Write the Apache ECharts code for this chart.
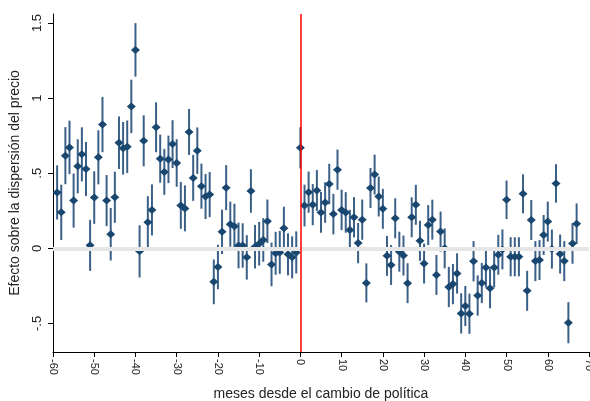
<!DOCTYPE html>
<html>
<head>
<meta charset="utf-8">
<script src="https://cdn.jsdelivr.net/npm/echarts@6/dist/echarts.min.js"></script>
<style>
  html, body { margin: 0; padding: 0; background: #fff; }
  #main { width: 590px; height: 401px; }
</style>
</head>
<body>
<div id="main"></div>
<script>
// meses desde el cambio de política (-59 .. 67)
var months = [];
for (var m = -59; m <= 67; m++) months.push(m);

// coeficientes estimados
var coef = [
  0.372, 0.24, 0.617, 0.672, 0.318, 0.546, 0.626, 0.528, 0.02, 0.338,
  0.606, 0.824, 0.318, 0.094, 0.34, 0.703, 0.666, 0.676, 0.945, 1.321,
  -0.02, 0.716, 0.174, 0.256, 0.806, 0.597, 0.509, 0.592, 0.694, 0.568,
  0.286, 0.266, 0.775, 0.469, 0.65, 0.414, 0.345, 0.358, -0.223, -0.124,
  0.11, 0.404, 0.161, 0.147, 0.019, 0.019, -0.06, 0.382, 0.011, 0.031,
  0.056, 0.18, -0.107, -0.033, -0.027, 0.134, -0.04, -0.06, -0.027,
  // mes 0
  0.669, 0.285, 0.374, 0.291, 0.385, 0.239, 0.305, 0.428, 0.228, 0.524,
  0.256, 0.239, 0.122, 0.207, 0.035, 0.191, -0.23, 0.402, 0.491, 0.345,
  0.263, -0.05, -0.111, 0.2, -0.022, -0.048, -0.232, 0.207, 0.29, 0.05,
  -0.101, 0.155, 0.191, -0.177, 0.112, 0.0, -0.257, -0.238, -0.167, -0.433,
  -0.384, -0.435, -0.086, -0.314, -0.231, -0.128, -0.266, -0.127, -0.043, -0.007,
  0.323, -0.056, -0.056, -0.056, 0.363, -0.283, 0.189, -0.085, -0.078, 0.089,
  0.178, -0.005, 0.432, -0.038, -0.085, -0.495, 0.033, 0.164
];

// semi-amplitud del intervalo de confianza
var ciHalf = [
  0.18, 0.184, 0.19, 0.178, 0.18, 0.18, 0.18, 0.18, 0.17, 0.175,
  0.18, 0.184, 0.17, 0.175, 0.17, 0.175, 0.175, 0.175, 0.178, 0.178,
  0.174, 0.17, 0.173, 0.17, 0.166, 0.16, 0.153, 0.158, 0.159, 0.158,
  0.156, 0.153, 0.153, 0.153, 0.155, 0.15, 0.15, 0.15, 0.149, 0.148,
  0.148, 0.15, 0.15, 0.15, 0.152, 0.148, 0.148, 0.145, 0.145, 0.145,
  0.145, 0.145, 0.145, 0.143, 0.143, 0.143, 0.14, 0.14, 0.14,
  0.137, 0.139, 0.137, 0.137, 0.136, 0.136, 0.135, 0.135, 0.135, 0.134,
  0.135, 0.135, 0.135, 0.134, 0.134, 0.134, 0.13, 0.133, 0.133, 0.133,
  0.133, 0.133, 0.133, 0.133, 0.133, 0.133, 0.133, 0.133, 0.133, 0.133,
  0.133, 0.133, 0.133, 0.133, 0.133, 0.133, 0.134, 0.134, 0.134, 0.134,
  0.134, 0.134, 0.134, 0.134, 0.134, 0.133, 0.133, 0.133, 0.133, 0.133,
  0.128, 0.13, 0.13, 0.13, 0.13, 0.133, 0.133, 0.133, 0.133, 0.133,
  0.133, 0.13, 0.128, 0.13, 0.133, 0.137, 0.135, 0.135
];

var xTicks = [-60, -50, -40, -30, -20, -10, 0, 10, 20, 30, 40, 50, 60, 70];
var yTicks = [-0.5, 0, 0.5, 1, 1.5];
var yTickLabels = ['-.5', '0', '.5', '1', '1.5'];

var points = months.map(function (m, i) { return [m, coef[i]]; });
var bars = months.map(function (m, i) { return [m, coef[i] - ciHalf[i], coef[i] + ciHalf[i]]; });

var font = "'Liberation Sans', Arial, sans-serif";
var myChart = echarts.init(document.getElementById('main'));

var option = {
  animation: false,
  backgroundColor: '#fff',
  grid: { left: 53, right: 1, top: 14, bottom: 49, containLabel: false, outerBoundsMode: 'none' },
  xAxis: {
    type: 'value',
    min: -60, max: 70, interval: 10,
    name: 'meses desde el cambio de política',
    nameLocation: 'middle',
    nameGap: 35,
    nameTextStyle: { fontFamily: font, fontSize: 14, color: '#222' },
    axisLine: { show: true, onZero: false, lineStyle: { color: '#000', width: 1 } },
    axisTick: { show: true, length: 5, lineStyle: { color: '#000' } },
    axisLabel: {
      rotate: -90, fontFamily: font, fontSize: 11, color: '#222', margin: 7,
      showMaxLabel: true,
      customValues: xTicks
    },
    splitLine: { show: false }
  },
  yAxis: {
    type: 'value',
    min: -0.69, max: 1.56,
    name: 'Efecto sobre la dispersión del precio',
    nameLocation: 'middle',
    nameGap: 31,
    nameTextStyle: { fontFamily: font, fontSize: 14, color: '#222' },
    axisLine: { show: true, onZero: false, lineStyle: { color: '#000', width: 1 } },
    axisTick: { show: true, length: 5, lineStyle: { color: '#000' }, customValues: yTicks },
    axisLabel: {
      rotate: 90, fontFamily: font, fontSize: 13, color: '#222', margin: 9,
      customValues: yTicks,
      formatter: function (v) {
        var i = yTicks.indexOf(v);
        return i >= 0 ? yTickLabels[i] : '';
      }
    },
    splitLine: { show: false }
  },
  series: [
    {
      type: 'scatter',
      data: [],
      z: 1,
      markLine: {
        silent: true,
        symbol: 'none',
        animation: false,
        label: { show: false },
        data: [
          { yAxis: 0, lineStyle: { color: '#e6e6e6', width: 4, type: 'solid' } },
          { xAxis: 0, lineStyle: { color: '#ff0000', width: 1.5, type: 'solid' } }
        ]
      }
    },
    {
      type: 'custom',
      z: 2,
      data: bars,
      renderItem: function (params, api) {
        var p1 = api.coord([api.value(0), api.value(1)]);
        var p2 = api.coord([api.value(0), api.value(2)]);
        return {
          type: 'line',
          shape: { x1: p1[0], y1: p1[1], x2: p2[0], y2: p2[1] },
          style: { stroke: '#3b6088', lineWidth: 2 }
        };
      }
    },
    {
      type: 'scatter',
      z: 3,
      data: points,
      symbol: 'diamond',
      symbolSize: [9, 8],
      itemStyle: { color: '#1a476f', opacity: 1 }
    }
  ]
};
myChart.setOption(option);
</script>
</body>
</html>
